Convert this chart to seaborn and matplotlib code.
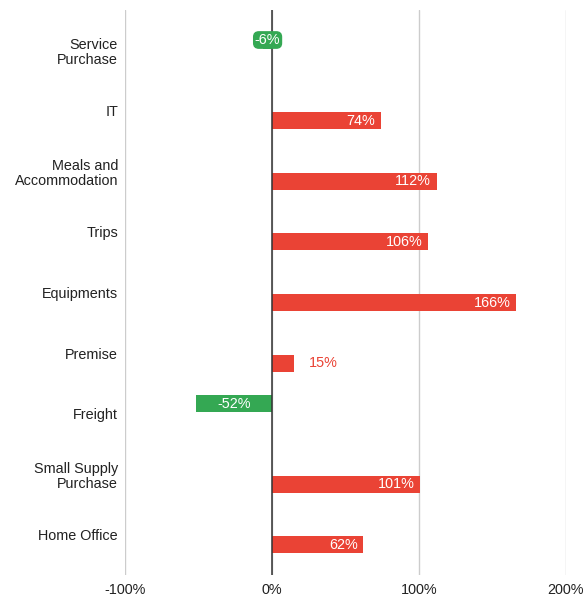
import matplotlib
matplotlib.use("Agg")
import matplotlib.pyplot as plt
import seaborn as sns
import pandas as pd

categories = ["Service\nPurchase", "IT", "Meals and\nAccommodation", "Trips", "Equipments",
              "Premise", "Freight", "Small Supply\nPurchase", "Home Office"]
changes = [-6, 74, 112, 106, 166, 15, -52, 101, 62]
x_ticks = [-100, 0, 100, 200]
x_tick_labels = ["-100%", "0%", "100%", "200%"]

RED = "#EA4335"
GREEN = "#34A853"
FS = 10.4

sns.set_theme(style="white")
plt.rcParams["font.family"] = ["Liberation Sans", "DejaVu Sans"]

df = pd.DataFrame({
    "category": categories,
    "change": changes,
    "direction": ["down" if v < 0 else "up" for v in changes],
})

fig = plt.figure(figsize=(5.85, 5.97), dpi=100)
ax = fig.add_axes([125 / 585, 1 - 575 / 597, (566 - 125) / 585, (575 - 10) / 597])

sns.barplot(data=df, x="change", y="category", hue="direction",
            hue_order=["down", "up"], palette={"down": GREEN, "up": RED},
            order=categories, width=0.66, gap=0.15, dodge=True,
            legend=False, saturation=1, linewidth=0, ax=ax, zorder=3)

ax.set_xlim(-100, 200)
ax.set_ylim(8.66, -0.66)
ax.set_xticks(x_ticks)
ax.set_xticklabels(x_tick_labels)
ax.set_xlabel("")
ax.set_ylabel("")
for s in ax.spines.values():
    s.set_visible(False)
ax.grid(axis="x", color="#cccccc", linewidth=1, zorder=0)
ax.axvline(0, color="#333333", linewidth=1.1, zorder=4)
ax.tick_params(axis="both", length=0, labelsize=FS, colors="#222222")
ax.tick_params(axis="y", pad=5)
ax.tick_params(axis="x", pad=6)
for t in ax.get_yticklabels():
    t.set_linespacing(1.12)

# value labels on each bar
for bar in ax.patches:
    w = bar.get_width()
    h = bar.get_height()
    if h == 0 or abs(w) < 1e-9:
        continue
    yc = bar.get_y() + h / 2
    x0 = bar.get_x()
    lo, hi = min(x0, x0 + w), max(x0, x0 + w)
    v = round(hi - lo) if hi > 0 else -round(hi - lo)
    txt = f"{v}%"
    length = hi - lo
    if v < 0 and length > 20:
        ax.text((lo + hi) / 2, yc, txt, ha="center", va="center",
                color="white", fontsize=FS, zorder=5)
    elif v < 0:
        ax.text((lo + hi) / 2, yc, txt, ha="center", va="center",
                color="white", fontsize=FS, zorder=5,
                bbox=dict(boxstyle="round,pad=0.08,rounding_size=0.35", fc=GREEN, ec=GREEN))
    elif length > 25:
        ax.annotate(txt, (hi, yc), xytext=(-4, 0), textcoords="offset points",
                    ha="right", va="center", color="white", fontsize=FS, zorder=5)
    else:
        ax.annotate(txt, (hi, yc), xytext=(11, 0), textcoords="offset points",
                    ha="left", va="center", color=RED, fontsize=FS, zorder=5)

fig.savefig("out.png", dpi=100)
